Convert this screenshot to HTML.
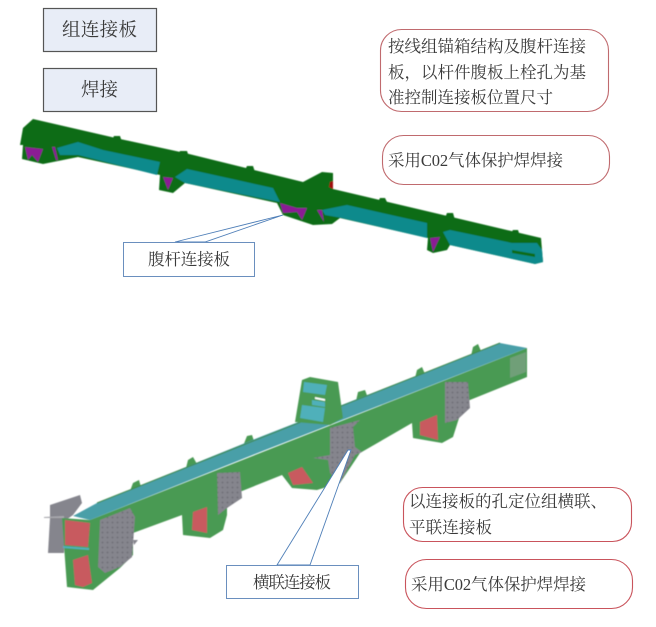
<!DOCTYPE html>
<html><head><meta charset="utf-8"><style>
html,body{margin:0;padding:0;background:#fff;width:656px;height:627px;overflow:hidden}
svg{display:block}
text{font-family:"Liberation Serif","Noto Serif CJK SC",serif;fill:#3a3a3a;font-size:16.5px}
</style></head><body>
<svg width="656" height="627" viewBox="0 0 656 627" xmlns="http://www.w3.org/2000/svg">
<defs>
<filter id="b" x="-5%" y="-5%" width="110%" height="110%"><feGaussianBlur stdDeviation="0.5"/></filter>
<pattern id="dots" width="5" height="5" patternUnits="userSpaceOnUse"><rect width="5" height="5" fill="#85858d"/><circle cx="2.5" cy="2.5" r="0.9" fill="#6d6d75"/></pattern>
</defs>

<!-- top boxes -->
<rect x="43.5" y="8.5" width="113" height="43" fill="#e8edf7" stroke="#555" stroke-width="1.2"/>
<rect x="43.5" y="68.5" width="113" height="43" fill="#e8edf7" stroke="#555" stroke-width="1.2"/>
<text x="62" y="36" style="font-size:18.5px" textLength="75">组连接板</text>
<text x="81" y="96" style="font-size:18.5px" textLength="37">焊接</text>

<!-- top beam -->
<g filter="url(#b)">
<polygon fill="#0b6c14" points="33,119 120,139 185,153 250,169 303,182 322,172 333,173 333,189 541,238 543,262 535,264 450,245 447,250 433,253 427,250 428,238 340,218 332,224 313,225 283,215 277,203 185,183 173,193 159,190 160,175 78,157 43,164 22,159 23,145 20,145 23,128"/>
<g fill="#0b6c14">
<polygon points="112,140 114,136 120,136 122,142"/>
<polygon points="178,155 180,151 187,151 189,157"/>
<polygon points="245,170 247,166 253,166 255,172"/>
<polygon points="378,202 380,198 385,198 388,204"/>
<polygon points="445,218 447,213 453,213 455,220"/>
<polygon points="511,233 513,230 518,230 520,236"/>
</g>
<polygon fill="#0e8a8c" points="57,148 78,142 103,150 160,162 157,175 78,155 60,155"/>
<polygon fill="#0e8a8c" points="175,177 187,169 237,180 273,188 280,202 185,183"/>
<polygon fill="#0e8a8c" points="322,210 347,205 427,223 427,238 342,218 325,215"/>
<polygon fill="#0e8a8c" points="443,232 450,230 512,243 537,243 542,250 543,262 535,264 450,245"/>
<polygon fill="#0b6c14" points="512,250 535,254 535,257 512,253"/>
<g fill="#8b1a94">
<polygon points="25,147 43,149 38,162 32,155 28,160"/>
<polygon points="52,147 55,147 58,160 56,160"/>
<polygon points="163,177 173,178 168,190"/>
<polygon points="280,203 297,208 307,208 302,220 297,212 283,213"/>
<polygon points="317,210 322,210 324,222"/>
<polygon points="430,238 440,237 433,252"/>
</g>
<polygon fill="#a01010" points="330,182 333,181 333,189 329,187"/>
</g>

<!-- top leader + label -->
<polygon fill="#fff" stroke="#4f7fb8" stroke-width="0.9" points="175,242 283,215 205,242"/>
<rect x="123.5" y="242.5" width="131" height="34" fill="#fff" stroke="#6a8fbe"/>
<text x="148" y="265" textLength="82">腹杆连接板</text>

<!-- callouts -->
<rect x="380.5" y="29.5" width="228" height="82" rx="21" fill="#fff" stroke="#c06a6e" stroke-width="1.1"/>
<text x="388" y="52" textLength="198">按线组锚箱结构及腹杆连接</text>
<text x="388" y="78" textLength="198">板，以杆件腹板上栓孔为基</text>
<text x="388" y="103" textLength="165">准控制连接板位置尺寸</text>
<rect x="382.5" y="135.5" width="227" height="49" rx="21" fill="#fff" stroke="#c06a6e" stroke-width="1.1"/>
<text x="388" y="166" textLength="175">采用C02气体保护焊焊接</text>

<!-- bottom beam -->
<g filter="url(#b)">
<g fill="#4a9a52">
<polygon points="130,491 133,483 139,480 141,487"/>
<polygon points="186,468 188,460 193,457 197,464"/>
<polygon points="243,446 247,436 252,435 254,441"/>
<polygon points="356,401 358,392 365,390 368,398"/>
<polygon points="415,378 417,370 422,367 425,374"/>
<polygon points="471,356 473,347 478,344 481,351"/>
</g>
<!-- end plate -->
<polygon fill="#85858d" points="50,505 80,495 82,503 73,515 66,520 64,553 48,553 50,518"/>
<polygon fill="#a9a9ae" points="44,517 64,516 64,518 44,518"/>
<!-- main green -->
<polygon fill="#4a9a52" points="62,518 90,520 527,348 527,377 460,404 460,415 453,437 442,443 413,438 412,423 360,453 340,483 317,490 292,488 282,475 227,497 227,515 223,530 210,538 183,535 182,515 133,533 133,555 120,568 93,590 67,587"/>
<!-- teal top -->
<polygon fill="#4a9fa8" points="73,516 97,503 260,437 500,343 527,348 260,452 90,520"/>
<line x1="97" y1="503" x2="500" y2="343" stroke="#3f8a4a" stroke-width="1"/>
<polygon fill="#6f9f78" points="510,358 526,352 526,372 510,378"/>
<!-- tower -->
<polygon fill="#4a9a52" points="302,380 310,377 338,382 343,418 330,425 295,422"/>
<polygon fill="#4fb0ba" points="304,382 327,385 325,395 303,392"/>
<polygon fill="#4fb0ba" points="302,405 325,408 323,422 300,418"/>
<polygon fill="#4fb0ba" points="312,400 325,402 325,407 312,405"/>
<polygon fill="#fff" points="315,397 325,399 325,401 315,399"/>
<!-- gray plates -->
<polygon fill="url(#dots)" points="100,520 130,508 135,517 132,557 120,567 105,573 98,567"/>
<polygon fill="url(#dots)" points="217,473 240,472 242,498 227,508 218,515"/>
<polygon fill="url(#dots)" points="445,382 468,382 470,408 457,420 445,423"/>
<polygon fill="url(#dots)" points="330,428 360,420 353,427 355,447 362,452 355,455 340,483 330,473 328,460 313,458 330,455"/>
<polygon fill="#85858d" points="133,540 138,540 134,545"/>
<!-- red -->
<g fill="#c85a5f">
<polygon points="65,520 90,523 88,547 65,545"/>
<polygon points="73,560 88,555 92,583 83,587 75,585"/>
<polygon points="193,512 207,507 207,533 192,530"/>
<polygon points="288,473 302,467 313,483 293,485"/>
<polygon points="420,422 437,415 438,440 420,435"/>
</g>
<polygon fill="#4fb0ba" points="63,546 89,548 89,550 63,548"/>
</g>

<!-- bottom leader + label -->
<polygon fill="#fff" stroke="#4f7fb8" stroke-width="0.9" points="277,565 348,450 351,450 310,565"/>
<rect x="226.5" y="565.5" width="132" height="33" fill="#fff" stroke="#6a8fbe"/>
<text x="253" y="588" textLength="78">横联连接板</text>

<rect x="403.5" y="487.5" width="228" height="54" rx="19" fill="#fff" stroke="#c9545c" stroke-width="1.1"/>
<text x="409" y="507" textLength="198">以连接板的孔定位组横联、</text>
<text x="409" y="533" textLength="83">平联连接板</text>
<rect x="405.5" y="559.5" width="227" height="49" rx="21" fill="#fff" stroke="#c9545c" stroke-width="1.1"/>
<text x="411" y="590" textLength="175">采用C02气体保护焊焊接</text>
</svg>
</body></html>
